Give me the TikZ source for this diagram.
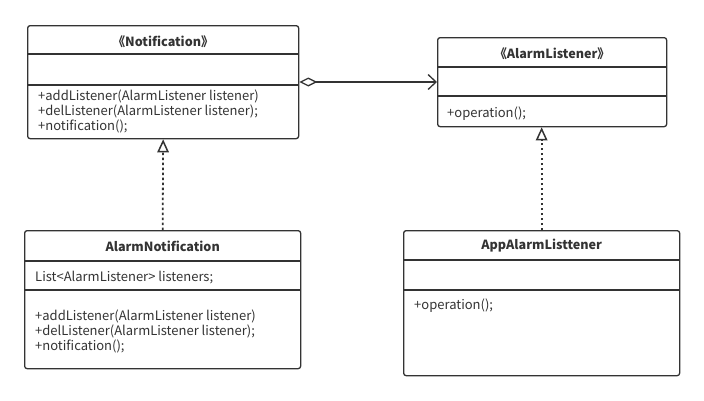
\documentclass[tikz,border=0pt]{standalone}
\usepackage{fontspec}
\setmainfont{Noto Sans CJK SC}
\usetikzlibrary{arrows.meta}
\definecolor{umlline}{HTML}{333333}

\begin{document}
\begin{tikzpicture}[x=1pt,y=-1pt,
  classbox/.style={draw=umlline, line width=1.3pt, rounded corners=2.5pt, inner sep=0pt, anchor=north west},
  member/.style={anchor=west, inner sep=0pt, text=umlline, font=\fontsize{13}{14}\selectfont},
  classname/.style={inner sep=0pt, text=umlline, font=\fontsize{12.6}{14}\selectfont\bfseries}]
\useasboundingbox (0,0) rectangle (704,400);

% class boxes
\node[classbox, minimum width=271pt, minimum height=113pt] (notif) at (27,25) {};
\node[classbox, minimum width=229pt, minimum height=89pt] (listener) at (437,37) {};
\node[classbox, minimum width=276pt, minimum height=138pt] (alarmnotif) at (24,230) {};
\node[classbox, minimum width=276pt, minimum height=145pt] (app) at (403,230) {};

% compartments
\draw[umlline, line width=1.3pt] (notif.west |- 0,54) -- (notif.east |- 0,54);
\draw[umlline, line width=1.3pt] (notif.west |- 0,85) -- (notif.east |- 0,85);
\draw[umlline, line width=1.3pt] (listener.west |- 0,67) -- (listener.east |- 0,67);
\draw[umlline, line width=1.3pt] (listener.west |- 0,96) -- (listener.east |- 0,96);
\draw[umlline, line width=1.3pt] (alarmnotif.west |- 0,261) -- (alarmnotif.east |- 0,261);
\draw[umlline, line width=1.3pt] (alarmnotif.west |- 0,290) -- (alarmnotif.east |- 0,290);
\draw[umlline, line width=1.3pt] (app.west |- 0,260) -- (app.east |- 0,260);
\draw[umlline, line width=1.3pt] (app.west |- 0,290) -- (app.east |- 0,290);

% names
\node[classname] (notifname) at (notif.north |- 0,42) {《Notification》};
\node[classname] (listenername) at (listener.north |- 0,54) {《AlarmListener》};
\node[classname] (alarmnotifname) at (alarmnotif.north |- 0,246) {AlarmNotification};
\node[classname] (appname) at (app.north |- 0,246) {AppAlarmListtener};

% members
\node[member] (notifadd) at (38,96) {+addListener(AlarmListener listener)};
\node[member] (notifdel) at (38,111) {+delListener(AlarmListener listener);};
\node[member] (notifnot) at (38,126) {+notification();};
\node[member] (listenerop) at (447,114) {+operation();};
\node[member] (alarmlist) at (35,278) {List<AlarmListener> listeners;};
\node[member] (alarmadd) at (35,316) {+addListener(AlarmListener listener)};
\node[member] (alarmdel) at (35,331) {+delListener(AlarmListener listener);};
\node[member] (alarmnot) at (35,346) {+notification();};
\node[member] (appop) at (414,306) {+operation();};

% relations
\draw[umlline, line width=1.3pt, {Diamond[open, length=18pt, width=9pt]}-{Straight Barb[length=8pt, width=15pt]}]
  (notif.east |- 0,82) -- (listener.west |- 0,82);
\draw[umlline, line width=1.8pt, dash pattern=on 2.5pt off 2.5pt, -{Triangle[open, length=13pt, width=11.5pt, line width=1.5pt]}]
  (alarmnotif.north) -- (notif.south);
\draw[umlline, line width=1.8pt, dash pattern=on 2.5pt off 2.5pt, -{Triangle[open, length=13pt, width=11.5pt, line width=1.5pt]}]
  (app.north) -- (app.north |- listener.south);
\end{tikzpicture}
\end{document}
